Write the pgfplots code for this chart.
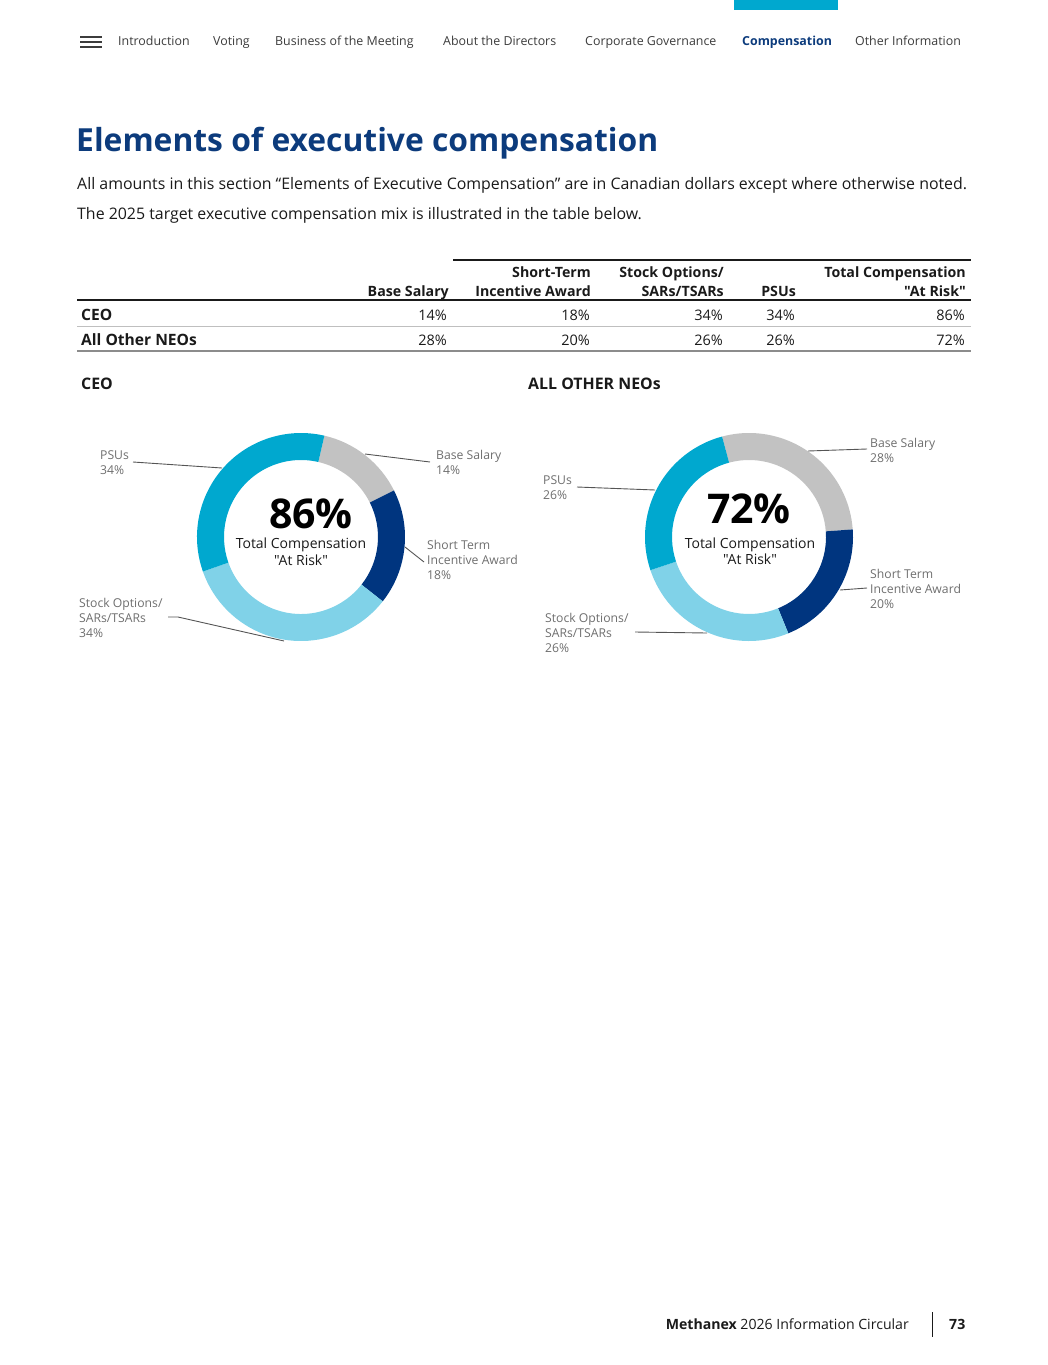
\documentclass[border=0pt]{standalone}
\usepackage{pgfplots}
\usepackage{pgfplotstable}
\usepackage{fontspec}
\pgfplotsset{compat=1.18}
\setmainfont{Open Sans}
\newfontfamily\plain{Open Sans}
\usetikzlibrary{calc}

\definecolor{mxblue}{HTML}{0C3B7C}
\definecolor{basegray}{HTML}{C2C2C2}
\definecolor{stinavy}{HTML}{00357F}
\definecolor{optblue}{HTML}{80D2E8}
\definecolor{psucyan}{HTML}{00A8CF}
\definecolor{labgray}{HTML}{6E6E6E}
\definecolor{leader}{HTML}{555555}
\definecolor{ink}{HTML}{1A1A1A}

% shares of each donut, clockwise from the first segment
\pgfplotstableread{
share color
14 basegray
18 stinavy
34 optblue
34 psucyan
}\ceotable
\pgfplotstableread{
share color
28 basegray
20 stinavy
26 optblue
26 psucyan
}\neotable

\def\ro{104}
\def\ri{77}
% #1 start angle, #2 table
\newcommand\ring[2]{%
  \edef\acc{#1}%
  \pgfplotstablegetrowsof{#2}%
  \pgfmathtruncatemacro\nrows{\pgfplotsretval-1}%
  \pgfplotsforeachungrouped \i in {0,...,\nrows}{%
    \pgfplotstablegetelem{\i}{share}\of{#2}\let\sh\pgfplotsretval
    \pgfplotstablegetelem{\i}{color}\of{#2}\let\col\pgfplotsretval
    \pgfmathsetmacro\aend{\acc-3.6*\sh}%
    \edef\temp{\noexpand\fill[\col] (axis cs:0,0) ++(\acc:\ro pt)
      arc[start angle=\acc, end angle=\aend, radius=\ro pt]
      -- ($(axis cs:0,0)+(\aend:\ri pt)$)
      arc[start angle=\aend, end angle=\acc, radius=\ri pt] -- cycle;}%
    \temp
    \global\let\acc\aend
  }%
}

\pgfplotsset{donut/.style={x=1pt, y=1pt, xmin=-110, xmax=110, ymin=-110, ymax=110,
  hide axis, clip=false, anchor=origin, disabledatascaling}}

\begin{document}
\begin{tikzpicture}[x=1pt,y=1pt]
\path (0,0) rectangle (1048,-1365);

% top navigation
\fill[psucyan] (734,0) rectangle (838,-10);
\foreach \yy in {37,42,47} \draw[line width=2pt, ink!85] (80,-\yy) -- (102,-\yy);
\begin{scope}[every node/.style={anchor=base west, inner sep=0pt, font=\fontsize{12.4}{15}\selectfont, text=ink!85}]
\node at (118,-45.5) {Introduction};
\node at (213,-45.5) {Voting};
\node at (275,-45.5) {Business of the Meeting};
\node at (443,-45.5) {About the Directors};
\node at (585,-45.5) {Corporate Governance};
\node[text=mxblue, font=\bfseries\fontsize{12.4}{15}\selectfont] at (742,-45.5) {Compensation};
\node at (855,-45.5) {Other Information};
\end{scope}

% title and text
\node[anchor=base west, inner sep=0pt, text=mxblue, font=\bfseries\fontsize{31.8}{38}\selectfont] at (76,-151) {Elements of executive compensation};
\begin{scope}[every node/.style={anchor=base west, inner sep=0pt, font=\fontsize{15.9}{18}\selectfont, text=ink}]
\node at (77,-189) {All amounts in this section “Elements of Executive Compensation” are in Canadian dollars except where otherwise noted.};
\node at (77,-219) {The 2025 target executive compensation mix is illustrated in the table below.};
\end{scope}

% table
\draw[line width=2pt, ink] (453,-260) -- (971,-260);
\draw[line width=2pt, ink] (77,-300) -- (971,-300);
\draw[line width=1pt, black!25] (77,-326) -- (971,-326);
\draw[line width=2pt, black!45] (77,-351) -- (971,-351);
\begin{scope}[every node/.style={anchor=base east, inner sep=0pt, font=\plain\bfseries\fontsize{14.2}{17}\selectfont, text=ink}]
\node at (449,-296) {Base Salary};
\node at (591,-277) {Short-Term};
\node at (591,-296) {Incentive Award};
\node at (724,-277) {Stock Options/};
\node at (724,-296) {SARs/TSARs};
\node at (796,-296) {PSUs};
\node at (966,-277) {Total Compensation};
\node at (966,-296) {"At Risk"};
\end{scope}
\begin{scope}[every node/.style={anchor=base west, inner sep=0pt, font=\bfseries\fontsize{15.6}{18}\selectfont, text=ink}]
\node at (81,-320) {CEO};
\node at (81,-345) {All Other NEOs};
\end{scope}
\begin{scope}[every node/.style={anchor=base east, inner sep=0pt, font=\fontsize{14.5}{18}\selectfont, text=ink}]
\node at (447,-320) {14\%}; \node at (590,-320) {18\%}; \node at (723,-320) {34\%};
\node at (795,-320) {34\%}; \node at (965,-320) {86\%};
\node at (447,-345) {28\%}; \node at (590,-345) {20\%}; \node at (723,-345) {26\%};
\node at (795,-345) {26\%}; \node at (965,-345) {72\%};
\end{scope}

% section labels
\begin{scope}[every node/.style={anchor=base west, inner sep=0pt, font=\bfseries\fontsize{15.9}{18}\selectfont, text=ink}]
\node at (81,-389) {CEO};
\node at (528,-389) {ALL OTHER NEOs};
\end{scope}

% donuts
\begin{axis}[donut, at={(301,-537)}]
\ring{77}{\ceotable}
\end{axis}
\begin{axis}[donut, at={(749,-537)}]
\ring{105}{\neotable}
\end{axis}

% centre texts
\begin{scope}[every node/.style={inner sep=0pt, anchor=base, font=\plain\fontsize{14}{17}\selectfont, text=ink}]
\node[font=\bfseries\fontsize{41}{46}\selectfont, text=black] at (311,-528) {86\%};
\node at (301,-548) {Total Compensation};
\node at (301,-565) {"At Risk"};
\node[font=\bfseries\fontsize{41}{46}\selectfont, text=black] at (749,-523) {72\%};
\node at (750,-548) {Total Compensation};
\node at (750,-564) {"At Risk"};
\end{scope}

% leader lines
\begin{scope}[leader, line width=0.9pt]
\draw (133,-462) -- (222,-468);
\draw (365,-454) -- (430,-462);
\draw (405,-547) -- (424,-562);
\draw (168,-617) -- (178,-617) -- (284,-641);
\draw (808,-451) -- (867,-449);
\draw (577,-487) -- (655,-490);
\draw (840,-590) -- (867,-588);
\draw (635,-632) -- (707,-633);
\end{scope}

% donut labels (anchored at the baseline of the last line)
\begin{scope}[every node/.style={anchor=base west, inner sep=0pt, align=left, font=\fontsize{12.2}{15}\selectfont, text=labgray}]
\node at (100,-474.5) {PSUs\\34\%};
\node at (436,-474.5) {Base Salary\\14\%};
\node at (427,-579.5) {Short Term\\Incentive Award\\18\%};
\node at (79,-637.5) {Stock Options/\\SARs/TSARs\\34\%};
\node at (870,-462.5) {Base Salary\\28\%};
\node at (543,-499.5) {PSUs\\26\%};
\node at (870,-608.5) {Short Term\\Incentive Award\\20\%};
\node at (545,-652.5) {Stock Options/\\SARs/TSARs\\26\%};
\end{scope}

% footer
\node[anchor=base east, inner sep=0pt, font=\fontsize{14.1}{18}\selectfont, text=ink] at (909,-1329) {\textbf{Methanex} 2026 Information Circular};
\draw[line width=1pt, ink] (932,-1312) -- (932,-1337);
\node[anchor=base west, inner sep=0pt, font=\bfseries\fontsize{14.1}{18}\selectfont, text=ink] at (949,-1329) {73};
\end{tikzpicture}
\end{document}
